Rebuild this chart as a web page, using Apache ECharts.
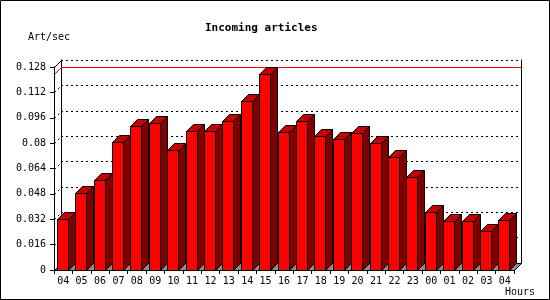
<!DOCTYPE html>
<html>
<head>
<meta charset="utf-8">
<script src="https://cdn.jsdelivr.net/npm/echarts@6/dist/echarts.min.js"></script>
<style>
html,body{margin:0;padding:0;background:#fff;}
#chart{width:550px;height:300px;}
</style>
</head>
<body>
<div id="chart"></div>
<script>
const hours = ['04','05','06','07','08','09','10','11','12','13','14','15','16','17','18','19','20','21','22','23','00','01','02','03','04'];
const artPerSec = [0.0319,0.0483,0.0565,0.0804,0.0911,0.0924,0.0756,0.0875,0.0875,0.0938,0.1068,0.1239,0.0867,0.0938,0.0842,0.0829,0.0861,0.0798,0.0710,0.0584,0.0363,0.0307,0.0307,0.0244,0.0313];
const yMax = 0.128;
const yStep = 0.016;
const yTicks = [0.016,0.032,0.048,0.064,0.08,0.096,0.112];
const titleText = 'Incoming articles';
const yName = 'Art/sec';
const xName = 'Hours';

const DEPTH = 7;
const GL = 54, GT = 67, GW = 460, GH = 203;
const FONT = 'DejaVu Sans Mono';
const maxVal = Math.max.apply(null, artPerSec);

const chart = echarts.init(document.getElementById('chart'), null, {renderer:'canvas'});

function renderBar(params, api){
  const cat = api.value(0), val = api.value(1);
  const top = api.coord([cat, val]);
  const bot = api.coord([cat, 0]);
  const bw = api.size([1,0])[0];
  const d = DEPTH;
  const x0 = Math.round(top[0] - bw*0.35) + 0.5;
  const w = Math.round(bw*0.58);
  const yT = Math.round(top[1]) + 0.5;
  const yB = Math.round(bot[1]) + 0.5;
  return {type:'group', children:[
    {type:'polygon', shape:{points:[[x0+w,yB],[x0+w,yT],[x0+w+d,yT-d],[x0+w+d,yB-d]]},
      style:{fill:'#800000', stroke:'#000', lineWidth:1}},
    {type:'polygon', shape:{points:[[x0,yT],[x0+d,yT-d],[x0+w+d,yT-d],[x0+w,yT]]},
      style:{fill:'#c40000', stroke:'#000', lineWidth:1}},
    {type:'rect', shape:{x:x0, y:yT, width:w, height:yB-yT},
      style:{fill:'#ff0000', stroke:'#000', lineWidth:1}}
  ]};
}

const option = {
  animation:false,
  backgroundColor:'#fff',
  textStyle:{fontFamily:FONT},
  title:{text:titleText, left:200, top:18,
    textStyle:{fontFamily:FONT, fontSize:11, fontWeight:'bold', color:'#000'}},
  grid:[
    {left:GL, top:GT, width:GW, height:GH, show:false},
    {left:GL+DEPTH, top:GT-DEPTH, width:GW, height:GH, show:false}
  ],
  xAxis:[
    {type:'category', gridIndex:0, data:hours, z:10,
      axisLine:{lineStyle:{color:'#000', width:1}},
      axisTick:{show:true, length:4, lineStyle:{color:'#000'}},
      axisLabel:{color:'#000', fontFamily:FONT, fontSize:10, margin:6, interval:0},
      splitLine:{show:false}},
    {type:'category', gridIndex:1, data:hours, position:'top',
      axisLine:{show:true, lineStyle:{color:'#000', width:1}},
      axisTick:{show:false}, axisLabel:{show:false}, splitLine:{show:false}}
  ],
  yAxis:[
    {type:'value', gridIndex:0, min:0, max:yMax, interval:yStep, z:10,
      axisLine:{show:true, lineStyle:{color:'#000', width:1}},
      axisTick:{show:true, length:4, lineStyle:{color:'#000'}},
      axisLabel:{color:'#000', fontFamily:FONT, fontSize:10, margin:8,
        formatter:function(v){ return v === 0 ? '0' : String(+v.toFixed(3)); }},
      splitLine:{show:false}},
    {type:'value', gridIndex:1, min:0, max:yMax, interval:yStep, position:'left',
      axisLine:{show:true, lineStyle:{color:'#000', width:1}},
      axisTick:{show:false}, axisLabel:{show:false},
      splitLine:{show:true, lineStyle:{color:'#000', width:1, type:[2,3]}}},
    {type:'value', gridIndex:1, min:0, max:yMax, interval:yStep, position:'right',
      axisLine:{show:true, lineStyle:{color:'#000', width:1}},
      axisTick:{show:false}, axisLabel:{show:false}, splitLine:{show:false}}
  ],
  graphic:[],
  series:[
    {type:'custom', name:'Incoming articles', xAxisIndex:0, yAxisIndex:0, z:5,
      renderItem:renderBar, data:artPerSec.map(function(v,i){return [i,v];}), clip:false}
  ]
};
chart.setOption(option);

function yPix(v){ return Math.round(chart.convertToPixel({yAxisIndex:0}, v)) + 0.5; }
const d = DEPTH;
const xL = GL + 0.5, xR = GL + GW + 0.5;
const y0 = yPix(0), yTop = yPix(yMax), yRed = yPix(maxVal);
const g = [
  {type:'polygon', z:2, shape:{points:[[xL,y0],[xL+d,y0-d],[xR+d,y0-d],[xR,y0]]},
    style:{fill:'#8c8c8c', stroke:'#000', lineWidth:1}},
  {type:'line', z:2, shape:{x1:xL, y1:yTop, x2:xL+d, y2:yTop-d}, style:{stroke:'#000', lineWidth:1}},
  {type:'line', z:4, shape:{x1:xL, y1:yRed, x2:xL+d, y2:yRed-d}, style:{stroke:'#ff0000', lineWidth:1}},
  {type:'rect', z:4, shape:{x:xL+d-0.5, y:yRed-d-0.5, width:GW, height:1}, style:{fill:'#ff0000'}},
  {type:'rect', z:100, shape:{x:0.5, y:0.5, width:549, height:299}, style:{fill:null, stroke:'#000', lineWidth:1}},
  {type:'text', z:10, left:28, top:32, style:{text:yName, fontFamily:FONT, fontSize:10, fill:'#000'}},
  {type:'text', z:10, left:505, top:287, style:{text:xName, fontFamily:FONT, fontSize:10, fill:'#000'}}
];
yTicks.forEach(function(t){
  const yt = yPix(t);
  g.push({type:'line', z:2, shape:{x1:xL, y1:yt, x2:xL+d, y2:yt-d},
    style:{stroke:'#000', lineWidth:1, lineDash:[2,3]}});
});
chart.setOption({graphic:g});
</script>
</body>
</html>
